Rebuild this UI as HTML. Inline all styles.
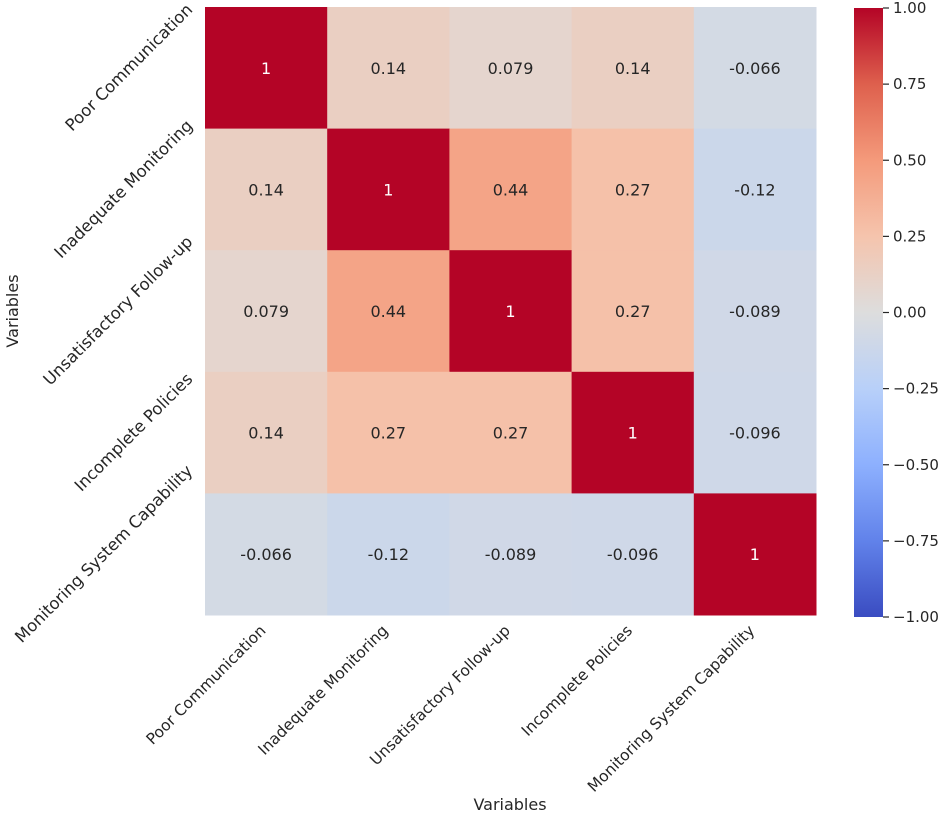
<!DOCTYPE html>
<html><head><meta charset="utf-8"><style>
html,body{margin:0;padding:0;background:#fff;}
svg{display:block;font-family:"DejaVu Sans","Liberation Sans",sans-serif;}
</style></head><body>
<svg id="chart" width="945" height="817" viewBox="0 0 945 817" xmlns="http://www.w3.org/2000/svg">
<defs><linearGradient id="cbgrad" x1="0" y1="1" x2="0" y2="0"></linearGradient></defs>
<g id="cells"></g>
<g id="xlabels"></g>
<g id="ylabels"></g>
<rect x="854" y="8" width="29" height="609" fill="url(#cbgrad)"/>
<g id="cbticks"></g>
<text x="510" y="810" font-size="16" fill="#262626" text-anchor="middle">Variables</text>
<text x="0" y="0" font-size="16" fill="#262626" text-anchor="middle" transform="translate(18,311) rotate(-90)">Variables</text>
</svg>
<script>
const categories = ["Poor Communication","Inadequate Monitoring","Unsatisfactory Follow-up","Incomplete Policies","Monitoring System Capability"];
const row0 = [1, 0.14, 0.079, 0.14, -0.066];
const row1 = [0.14, 1, 0.44, 0.27, -0.12];
const row2 = [0.079, 0.44, 1, 0.27, -0.089];
const row3 = [0.14, 0.27, 0.27, 1, -0.096];
const row4 = [-0.066, -0.12, -0.089, -0.096, 1];
const matrix = [row0,row1,row2,row3,row4];
const cbTickValues = [1, 0.75, 0.5, 0.25, 0, -0.25, -0.5, -0.75, -1];

const NS = "http://www.w3.org/2000/svg";
const X0=205, X1=816, Y0=7, Y1=615;
const n = categories.length;
const cw=(X1-X0)/n, ch=(Y1-Y0)/n;
const xPos = i => X0 + i*cw;
const yPos = j => Y0 + j*ch;
const CB0=8, CB1=617;
const cbY = v => CB1 - (v+1)/2*(CB1-CB0);

const anchors=[[58,76,193],[97,130,234],[141,176,254],[184,208,249],[221,221,221],[245,196,173],[244,154,123],[222,96,77],[180,4,38]];
function coolwarm(v){
  let t=(v+1)/2; t=Math.max(0,Math.min(1,t));
  const p=t*8, i=Math.min(7,Math.floor(p)), f=p-i;
  const a=anchors[i], b=anchors[i+1];
  const c=a.map((x,k)=>Math.round(x+(b[k]-x)*f));
  return `rgb(${c[0]},${c[1]},${c[2]})`;
}
function fmt(v){ return String(+v.toPrecision(2)); }

const grad=document.getElementById('cbgrad');
for(let k=0;k<=8;k++){
  const s=document.createElementNS(NS,'stop');
  s.setAttribute('offset',(k/8));
  s.setAttribute('stop-color',`rgb(${anchors[k].join(',')})`);
  grad.appendChild(s);
}

const cells=document.getElementById('cells');
matrix.forEach((row,j)=>row.forEach((v,i)=>{
  const r=document.createElementNS(NS,'rect');
  
  
  r.setAttribute('x',xPos(i)); r.setAttribute('y',yPos(j));
  r.setAttribute('width',cw+0.5); r.setAttribute('height',ch+0.5);
  r.setAttribute('fill',coolwarm(v));
  cells.appendChild(r);
  const t=document.createElementNS(NS,'text');
  
  
  t.setAttribute('x',xPos(i)+cw/2); t.setAttribute('y',yPos(j)+ch/2+6);
  t.setAttribute('text-anchor','middle'); t.setAttribute('font-size','16');
  t.setAttribute('fill', Math.abs(v)>0.6?'#ffffff':'#262626');
  t.textContent=fmt(v);
  cells.appendChild(t);
}));

const xl=document.getElementById('xlabels'), yl=document.getElementById('ylabels');
categories.forEach((c,i)=>{
  const t=document.createElementNS(NS,'text');
  
  
  t.setAttribute('font-size','15.5'); t.setAttribute('fill','#262626');
  t.setAttribute('text-anchor','middle');
  t.textContent=c; xl.appendChild(t);
  const w=t.getComputedTextLength()*Math.SQRT1_2;
  const cx=xPos(i)+cw/2 - w/2 - 3, cy=625 + w/2 + 3;
  t.setAttribute('transform',`translate(${cx},${cy}) rotate(-45)`);
  t.setAttribute('dy','5');

  const u=document.createElementNS(NS,'text');
  
  
  u.setAttribute('font-size','16.5'); u.setAttribute('fill','#262626');
  u.setAttribute('text-anchor','middle');
  u.textContent=c; yl.appendChild(u);
  const w2=u.getComputedTextLength()*Math.SQRT1_2;
  const cx2=193 - w2/2 - 3, cy2=yPos(i)+ch/2;
  u.setAttribute('transform',`translate(${cx2},${cy2}) rotate(-45)`);
  u.setAttribute('dy','5');
});

const cbt=document.getElementById('cbticks');
cbTickValues.forEach(v=>{
  const y=cbY(v);
  const l=document.createElementNS(NS,'line');
  
  
  l.setAttribute('x1',883); l.setAttribute('x2',889); l.setAttribute('y1',y); l.setAttribute('y2',y);
  l.setAttribute('stroke','#262626'); l.setAttribute('stroke-width','1.2');
  cbt.appendChild(l);
  const t=document.createElementNS(NS,'text');
  
  
  t.setAttribute('x',893); t.setAttribute('y',y+5);
  t.setAttribute('font-size','15'); t.setAttribute('fill','#262626');
  t.textContent=(v<0?'\u2212':'')+Math.abs(v).toFixed(2);
  cbt.appendChild(t);
});
</script>
</body></html>
